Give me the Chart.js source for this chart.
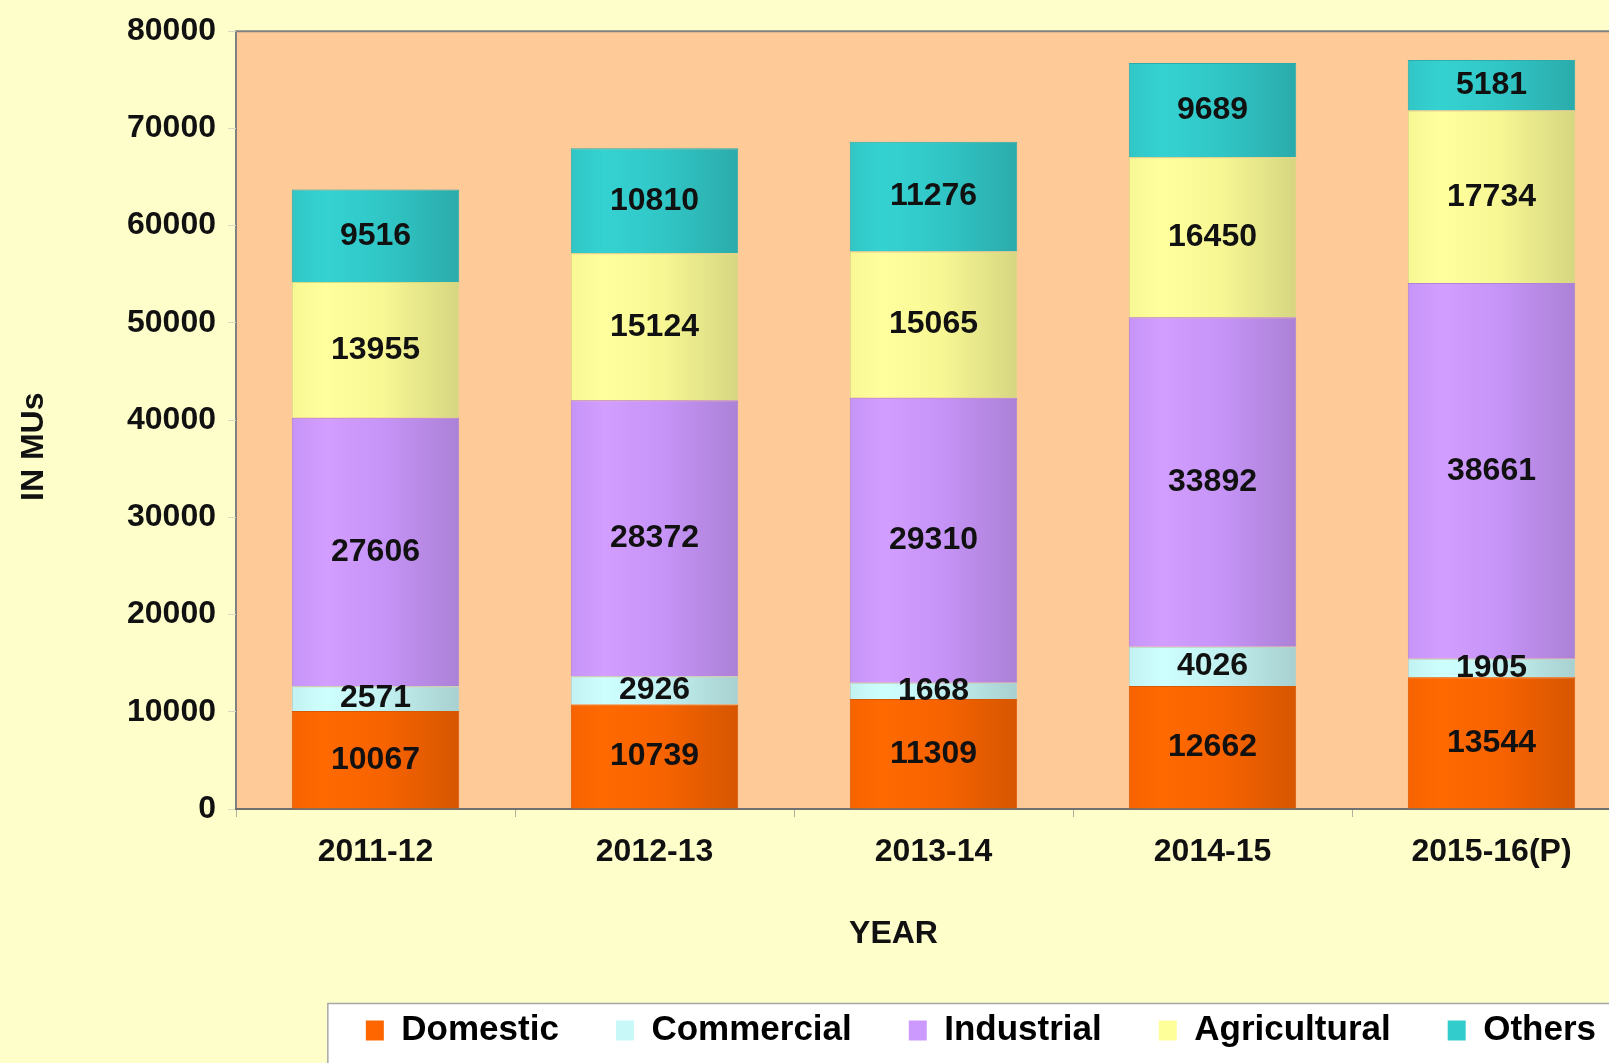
<!DOCTYPE html>
<html lang="en">
<head>
    <meta charset="UTF-8">
    <title>Energy consumption by category (MUs)</title>
    <style>
        body {
            margin: 0;
            background-color: #FEFECB;
            overflow: hidden;
        }
        .wrap {
            width: 1660px;
            height: 1063px;
            position: relative;
        }
    </style>
</head>
<body>
    <div class="wrap">
        <canvas id="chart"></canvas>
    </div>

    <script src="https://cdn.jsdelivr.net/npm/chart.js"></script>
    <script>
        const years = ['2011-12', '2012-13', '2013-14', '2014-15', '2015-16(P)'];
        const seriesNames = ['Domestic', 'Commercial', 'Industrial', 'Agricultural', 'Others'];
        const domestic = [10067, 10739, 11309, 12662, 13544];
        const commercial = [2571, 2926, 1668, 4026, 1905];
        const industrial = [27606, 28372, 29310, 33892, 38661];
        const agricultural = [13955, 15124, 15065, 16450, 17734];
        const others = [9516, 10810, 11276, 9689, 5181];
        const seriesColors = ['#FF6600', '#C8F8F8', '#CC99FF', '#FFFF99', '#33CCCC'];
        const yTicks = [0, 10000, 20000, 30000, 40000, 50000, 60000, 70000, 80000];

        const FONT = "'Liberation Sans', Arial, sans-serif";

        function shade(hex, f) {
            let n = parseInt(hex.slice(1), 16);
            let r = Math.min(255, Math.round(((n >> 16) & 255) * f));
            let g = Math.min(255, Math.round(((n >> 8) & 255) * f));
            let b = Math.min(255, Math.round((n & 255) * f));
            return 'rgb(' + r + ',' + g + ',' + b + ')';
        }

        // cylinder-ish shading across each bar
        function barFill(color) {
            return function (ctx) {
                const chart = ctx.chart;
                if (!chart.chartArea || ctx.type !== 'data') return color;
                const xs = chart.scales.x;
                const cx = xs.getPixelForValue(ctx.dataIndex);
                const half = xs.width / years.length * 0.6 / 2;
                const g = chart.ctx.createLinearGradient(cx - half, 0, cx + half, 0);
                g.addColorStop(0, shade(color, 0.97));
                g.addColorStop(0.2, shade(color, 1.03));
                g.addColorStop(0.55, shade(color, 0.97));
                g.addColorStop(1, shade(color, 0.84));
                return g;
            };
        }

        const values = [domestic, commercial, industrial, agricultural, others];

        const backdrop = {
            id: 'backdrop',
            afterLayout(chart) {
                // legend row sits a little further right than the plot edge
                chart.legend.left += 22;
                chart.legend.right += 22;
            },
            beforeDraw(chart) {
                const c = chart.ctx;
                const a = chart.chartArea;
                c.save();
                c.fillStyle = '#FDCA98';
                c.fillRect(a.left, a.top, a.right - a.left, a.bottom - a.top);
                c.strokeStyle = '#808080';
                c.lineWidth = 2;
                c.beginPath();
                c.moveTo(a.left, a.bottom);
                c.lineTo(a.left, a.top);
                c.lineTo(a.right, a.top);
                c.stroke();

                // legend panel
                const lg = chart.legend;
                if (lg && lg.legendHitBoxes && lg.legendHitBoxes.length) {
                    const hb = lg.legendHitBoxes[0];
                    const px = hb.left - 38;
                    const py = hb.top + hb.height / 2 - 27;
                    c.fillStyle = '#FFFFFF';
                    c.fillRect(px, py, chart.width - px + 10, chart.height - py + 10);
                    c.strokeStyle = '#A8A8A8';
                    c.lineWidth = 1.5;
                    c.strokeRect(px, py, chart.width - px + 10, chart.height - py + 10);
                }
                c.restore();
            }
        };

        const valueLabels = {
            id: 'valueLabels',
            afterDatasetsDraw(chart) {
                const c = chart.ctx;
                c.save();
                c.font = 'bold 32px ' + FONT;
                c.fillStyle = '#111111';
                c.textAlign = 'center';
                c.textBaseline = 'middle';
                chart.data.datasets.forEach((ds, i) => {
                    chart.getDatasetMeta(i).data.forEach((bar, j) => {
                        c.fillText(String(ds.data[j]), bar.x, (bar.y + bar.base) / 2);
                    });
                });
                c.restore();
            }
        };

        const ctx = document.getElementById('chart').getContext('2d');
        new Chart(ctx, {
            type: 'bar',
            data: {
                labels: years,
                datasets: seriesNames.map((name, i) => ({
                    label: name,
                    data: values[i],
                    backgroundColor: barFill(seriesColors[i]),
                    borderColor: shade(seriesColors[i], 0.85),
                    borderWidth: 1,
                    barPercentage: 0.6,
                    categoryPercentage: 1.0
                }))
            },
            options: {
                responsive: true,
                maintainAspectRatio: false,
                animation: false,
                layout: {
                    padding: { top: 28, right: 29, bottom: 5, left: 0 }
                },
                plugins: {
                    tooltip: { enabled: false },
                    legend: {
                        position: 'bottom',
                        align: 'end',
                        labels: {
                            boxWidth: 18,
                            boxHeight: 20,
                            padding: 57,
                            color: '#111111',
                            font: { family: FONT, size: 35, weight: 'bold' },
                            generateLabels: (chart) => chart.data.datasets.map((ds, i) => ({
                                text: ds.label,
                                fillStyle: seriesColors[i],
                                strokeStyle: seriesColors[i],
                                lineWidth: 0,
                                datasetIndex: i
                            }))
                        }
                    }
                },
                scales: {
                    x: {
                        stacked: true,
                        afterFit: (s) => { s.height = 147; },
                        grid: {
                            display: true,
                            drawOnChartArea: false,
                            drawTicks: true,
                            tickLength: 8,
                            tickColor: '#B0B0A0',
                            offset: true
                        },
                        border: { display: true, color: '#707070', width: 2 },
                        ticks: {
                            color: '#111111',
                            padding: 16,
                            font: { family: FONT, size: 32, weight: 'bold' }
                        },
                        title: {
                            display: true,
                            text: 'YEAR         ',
                            color: '#111111',
                            padding: { top: 0, bottom: 3 },
                            font: { family: FONT, size: 32, weight: 'bold' }
                        }
                    },
                    y: {
                        stacked: true,
                        min: 0,
                        max: 80000,
                        afterFit: (s) => { s.width = 236; },
                        afterBuildTicks: (s) => { s.ticks = yTicks.map(v => ({ value: v })); },
                        grid: {
                            display: true,
                            drawOnChartArea: false,
                            drawTicks: true,
                            tickLength: 8,
                            tickColor: '#D8D8C0'
                        },
                        border: { display: false },
                        ticks: {
                            color: '#111111',
                            padding: 12,
                            callback: (v) => String(v),
                            font: { family: FONT, size: 32, weight: 'bold' }
                        },
                        title: {
                            display: true,
                            text: 'IN MUs      ',
                            color: '#111111',
                            padding: { top: 15, bottom: 0 },
                            font: { family: FONT, size: 32, weight: 'bold' }
                        }
                    }
                }
            },
            plugins: [backdrop, valueLabels]
        });
    </script>
</body>
</html>
